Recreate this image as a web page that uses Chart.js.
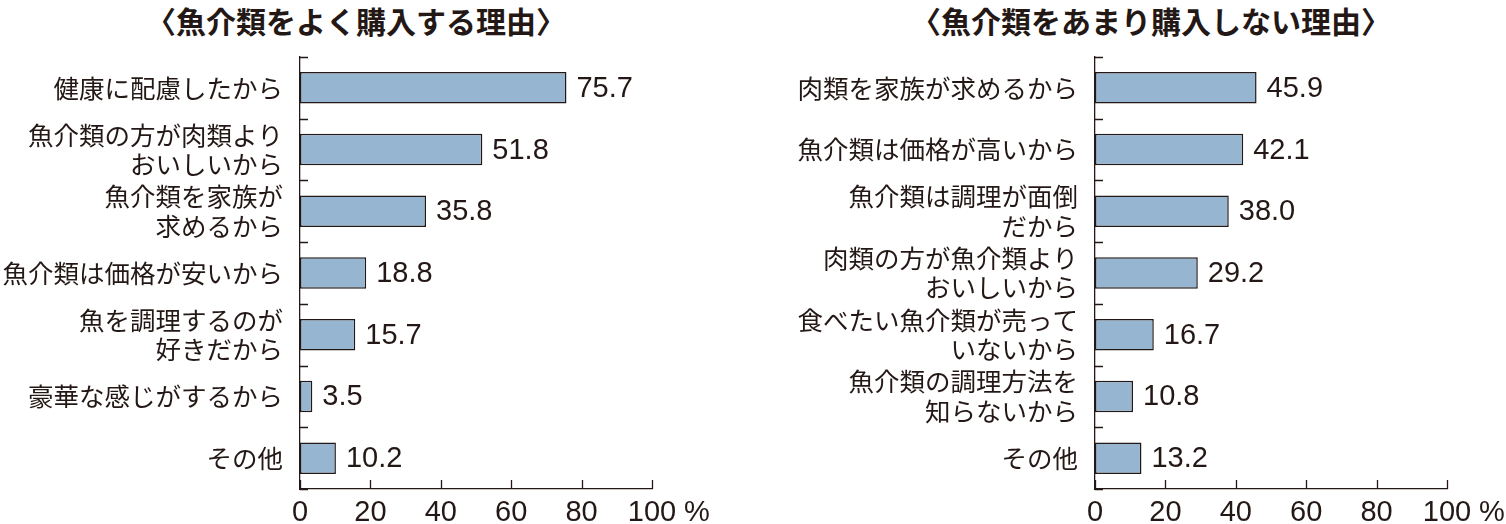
<!DOCTYPE html>
<html lang="ja">
<head>
<meta charset="UTF-8">
<title>魚介類の購入理由</title>
<script src="https://cdn.jsdelivr.net/npm/chart.js"></script>
<style>
    body {
        margin: 0;
        width: 1506px;
        height: 524px;
        background: #fff;
        position: relative;
        overflow: hidden;
    }
    .title {
        position: absolute;
        top: -2px;
        font-family: "Noto Sans CJK JP", sans-serif;
        font-weight: bold;
        font-size: 30px;
        line-height: 44px;
        color: #231815;
        white-space: nowrap;
        transform: translateX(-50%);
    }
    .box {
        position: absolute;
        top: 0;
        height: 524px;
    }
</style>
</head>
<body>

<div class="title" style="left:356px">〈魚介類をよく購入する理由〉</div>
<div class="title" style="left:1151px">〈魚介類をあまり購入しない理由〉</div>

<div class="box" style="left:0;width:760px"><canvas id="chartBuy"></canvas></div>
<div class="box" style="left:760px;width:746px"><canvas id="chartNot"></canvas></div>

<script>
    // よく購入する理由
    const buyLabels = [
        "健康に配慮したから",
        ["魚介類の方が肉類より", "おいしいから"],
        ["魚介類を家族が", "求めるから"],
        "魚介類は価格が安いから",
        ["魚を調理するのが", "好きだから"],
        "豪華な感じがするから",
        "その他"
    ];
    const buyValues = [75.7, 51.8, 35.8, 18.8, 15.7, 3.5, 10.2];

    // あまり購入しない理由
    const notLabels = [
        "肉類を家族が求めるから",
        "魚介類は価格が高いから",
        ["魚介類は調理が面倒", "だから"],
        ["肉類の方が魚介類より", "おいしいから"],
        ["食べたい魚介類が売って", "いないから"],
        ["魚介類の調理方法を", "知らないから"],
        "その他"
    ];
    const notValues = [45.9, 42.1, 38.0, 29.2, 16.7, 10.8, 13.2];

    const xTicks = [0, 20, 40, 60, 80, 100];

    const ink = '#231815';
    const barFill = '#95b5d1';
    const numFont = '"Liberation Sans", Arial, sans-serif';
    const jpFont = '"Noto Sans CJK JP", sans-serif';

    // short ticks pointing into the plot, value labels and the % sign
    const decorate = {
        id: 'decorate',
        afterDatasetsDraw(chart) {
            const c = chart.ctx;
            const xs = chart.scales.x;
            const ys = chart.scales.y;
            const area = chart.chartArea;
            c.save();
            c.strokeStyle = ink;
            c.lineWidth = 1.3;
            c.beginPath();
            // category boundaries on the y axis
            const n = chart.data.labels.length;
            for (let i = 0; i <= n; i++) {
                const y = Math.round(ys.getPixelForValue(i - 0.5)) + 0.5;
                c.moveTo(area.left, y);
                c.lineTo(area.left + 8, y);
            }
            // x ticks upward
            xTicks.forEach(v => {
                const x = Math.round(xs.getPixelForValue(v)) + 0.5;
                c.moveTo(x, area.bottom);
                c.lineTo(x, area.bottom - 9);
            });
            c.stroke();

            // values at the end of bars
            c.fillStyle = ink;
            c.font = '29px ' + numFont;
            c.textBaseline = 'middle';
            c.textAlign = 'left';
            const meta = chart.getDatasetMeta(0);
            const vals = chart.data.datasets[0].data;
            meta.data.forEach((bar, i) => {
                c.fillText(vals[i].toFixed(1), bar.x + 10, bar.y + 1);
            });

            // unit
            c.fillText('%', xs.getPixelForValue(100) + 32, area.bottom + 24);
            c.restore();
        }
    };

    function makeChart(id, labels, values, axisWidth, padRight) {
        return new Chart(document.getElementById(id), {
            type: 'bar',
            data: {
                labels: labels,
                datasets: [{
                    data: values,
                    backgroundColor: barFill,
                    borderColor: ink,
                    borderWidth: 1.5,
                    borderSkipped: false,
                    barPercentage: 0.51,
                    categoryPercentage: 1
                }]
            },
            options: {
                indexAxis: 'y',
                responsive: true,
                maintainAspectRatio: false,
                animation: false,
                layout: { padding: { top: 57, right: padRight, bottom: 0, left: 0 } },
                plugins: {
                    legend: { display: false },
                    tooltip: { enabled: false }
                },
                scales: {
                    x: {
                        min: 0,
                        max: 100,
                        afterBuildTicks: s => { s.ticks = xTicks.map(v => ({ value: v })); },
                        afterFit: s => { s.height = 35; },
                        grid: { display: false, drawTicks: false },
                        border: { display: true, color: ink, width: 1.3 },
                        ticks: {
                            padding: 7,
                            color: ink,
                            font: { family: numFont, size: 29 }
                        }
                    },
                    y: {
                        afterFit: s => { s.width = axisWidth; },
                        grid: { display: false, drawTicks: false },
                        border: { display: true, color: ink, width: 1.3 },
                        ticks: {
                            padding: 17,
                            color: ink,
                            font: { family: jpFont, size: 25.5, lineHeight: 1.15 }
                        }
                    }
                }
            },
            plugins: [decorate]
        });
    }

    makeChart('chartBuy', buyLabels, buyValues, 300, 108);
    makeChart('chartNot', notLabels, notValues, 335, 59);
</script>

</body>
</html>
